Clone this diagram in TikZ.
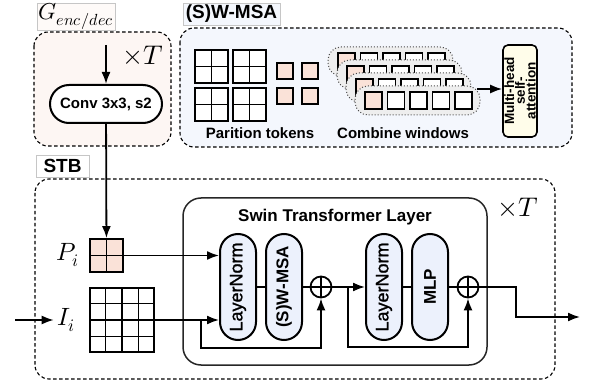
\documentclass[tikz,border=0pt]{standalone}
\usepackage{fontspec}
\usepackage{unicode-math}
\setmainfont{Liberation Sans}
\setmathfont{Latin Modern Math}
\newfontfamily\medfont[FakeBold=1.2]{Liberation Sans}
\usetikzlibrary{arrows.meta,calc}

\definecolor{pinkbg}{RGB}{253,246,243}
\definecolor{bluebg}{RGB}{244,247,253}
\definecolor{pillblue}{RGB}{236,241,252}
\definecolor{cellpink}{RGB}{250,226,216}
\definecolor{winbg}{RGB}{238,238,238}
\definecolor{yellowbg}{RGB}{255,253,234}

\tikzset{
    tag/.style={draw=gray!45, line width=0.7pt, inner sep=0pt, font=\fontsize{19}{19}\selectfont\bfseries},
    frame/.style={draw, dash pattern=on 3.5pt off 2.5pt, line width=1.1pt, rounded corners=14pt},
    pill/.style={draw, line width=2pt, rounded corners=18pt, fill=pillblue, rotate=90,
        minimum width=106pt, minimum height=36pt, inner sep=0pt},
    sum/.style={draw, circle, line width=1.8pt, minimum size=21pt, inner sep=0pt,
        path picture={
            \draw[line width=1.8pt] (path picture bounding box.north) -- (path picture bounding box.south);
            \draw[line width=1.8pt] (path picture bounding box.west) -- (path picture bounding box.east);}},
    link/.style={line width=1.8pt},
    arr/.style={line width=1.8pt, -{Latex[length=12pt,width=9pt]}},
    cell/.style={draw, line width=1.8pt},
}

\begin{document}
\begin{tikzpicture}[x=1pt, y=-1pt]
    \useasboundingbox (0,0) rectangle (597,382);

        % conv group
        \draw[frame, fill=pinkbg] (34,32) rectangle (171,146);
        \node[tag, fill=pinkbg!60, minimum width=78pt, minimum height=27pt, font=\fontsize{23}{23}\selectfont] (g) at (76,16.5)
        {$G_{enc/dec}$};
        \node[font=\fontsize{27}{27}\selectfont] (t1) at (143,55) {$\times T$};
        \node[draw, line width=2pt, fill=white, rounded corners=19pt, minimum width=112pt,
            minimum height=38pt, inner sep=0pt, font=\fontsize{15}{15}\selectfont\bfseries] (a) at (106,104)
        {Conv 3x3, s2};
        \coordinate (a0) at (106,45);
        \path[draw,arr] (a0) -- (a);

        % (S)W-MSA group
        \draw[frame, fill=bluebg] (180,28) rectangle (572,147);
        \node[tag, fill=bluebg, minimum width=97pt, minimum height=22pt] (h) at (231.5,14) {(S)W-MSA};

        \foreach \x/\y in {195/50, 233/50, 195/88, 233/88} {
            \draw[cell, fill=white] (\x,\y) rectangle ++(33,33);
            \draw[cell] (\x+16.5,\y) -- ++(0,33);
            \draw[cell] (\x,\y+16.5) -- ++(33,0);
        }
        \foreach \x/\y in {277/63, 302/63, 277/88, 302/88}
            \draw[cell, fill=cellpink] (\x,\y) rectangle ++(16,16);
        \node[font=\fontsize{15}{15}\selectfont\bfseries] (i) at (260,133) {Parition tokens};

        \foreach \k in {3,2,1,0} {
            \begin{scope}[shift={(355-9*\k,86-13*\k)}]
                \draw[gray!60!black, dotted, line width=1pt, fill=winbg, rounded corners=13pt] (0,0) rectangle (125,29);
                \draw[cell, fill=cellpink] (10,6) rectangle ++(17,17);
                \foreach \j in {1,...,4}
                    \draw[cell, fill=white] (10+22.5*\j,6) rectangle ++(17,17);
            \end{scope}
        }
        \node[font=\fontsize{15}{15}\selectfont\bfseries] (j) at (403,133) {Combine windows};

        \node[draw, line width=1.6pt, fill=yellowbg, rounded corners=5pt, rotate=90, align=center,
            minimum width=92pt, minimum height=34pt, inner sep=0pt,
            font=\fontsize{13.5}{10.8}\selectfont\bfseries] (m) at (520,91)
        {Multi-head\\self-\\attention};
        \coordinate (w) at (477,89);
        \path[draw,arr] (w) -- (w -| m.north);

        % STB group
        \draw[frame] (35,179) rectangle (555,379);
        \node[tag, fill=white, minimum width=53pt, minimum height=22pt] (s) at (62.5,166) {STB};
        \node[font=\fontsize{27}{27}\selectfont] (t2) at (518,207) {$\times T$};
        \draw[draw=gray!30!black, line width=1.5pt, rounded corners=18pt] (183,198) rectangle (487,365);
        \node[font=\fontsize{17}{17}\selectfont\bfseries] (l) at (335,217) {Swin Transformer Layer};

        \node[font=\fontsize{25}{25}\selectfont] (pl) at (68,255) {$P_i$};
        \node[cell, fill=cellpink, minimum size=33pt, inner sep=0pt] (p) at (106.5,255.5) {};
        \draw[cell] (p.north) -- (p.south);
        \draw[cell] (p.west) -- (p.east);
        \path[draw,arr] (a) -- (p);

        \node[font=\fontsize{25}{25}\selectfont] (il) at (66,320) {$I_i$};
        \node[cell, fill=white, minimum size=64pt, inner sep=0pt] (q) at (122,320) {};
        \foreach \t in {0.25,0.5,0.75} {
            \draw[cell] ($(q.north west)!\t!(q.north east)$) -- ($(q.south west)!\t!(q.south east)$);
            \draw[cell] ($(q.north west)!\t!(q.south west)$) -- ($(q.north east)!\t!(q.south east)$);
        }
        \coordinate (q0) at (15,320);
        \path[draw,arr] (q0) -- (il);

        % blocks
        \node[pill, font=\fontsize{18}{18}\medfont] (b) at (238,287) {LayerNorm};
        \node[pill, font=\fontsize{17}{17}\selectfont\bfseries] (c) at (284,287) {(S)W-MSA};
        \node[sum] (o) at (321,287) {};
        \node[pill, font=\fontsize{18}{18}\medfont] (d) at (384,287) {LayerNorm};
        \node[pill, font=\fontsize{17}{17}\selectfont\bfseries] (e) at (430,287) {MLP};
        \node[sum] (r) at (468,287) {};

        \path[draw,arr] (p) -- (p -| b.north);
        \path[draw,arr] (q) -- (q -| b.north);
        \path[draw,link] (b) -- (c);
        \path[draw,link] (c) -- (o);
        \path[draw,arr] (o) -- (d);
        \path[draw,link] (d) -- (e);
        \path[draw,link] (e) -- (r);

        \coordinate (u1) at (201,320);
        \coordinate (v1) at (201,348);
        \path[draw,arr] (u1) -- (v1) -| (o.south);
        \coordinate (u2) at (348,287);
        \coordinate (v2) at (348,347);
        \path[draw,arr] (u2) -- (v2) -| (r.south);

        \coordinate (k) at (516,287);
        \coordinate (z) at (580,317);
        \path[draw,arr] (r) -- (k) |- (z);
    \end{tikzpicture}
\end{document}
